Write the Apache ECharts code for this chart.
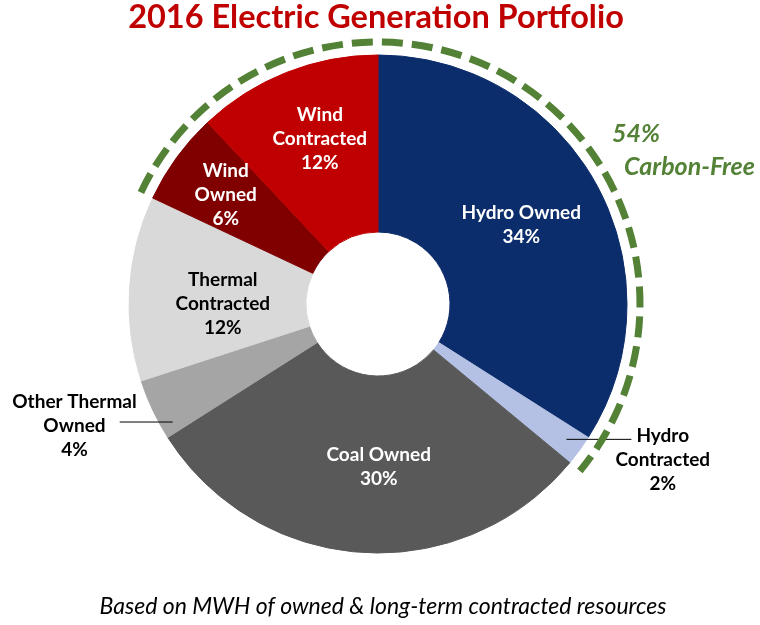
<!DOCTYPE html>
<html><head><meta charset="utf-8">
<script src="https://cdn.jsdelivr.net/npm/echarts@6/dist/echarts.min.js"></script>
<style>html,body{margin:0;padding:0;background:#fff}#c{width:760px;height:625px}</style>
</head><body><div id="c"></div>
<script>
// ---- data ----
const categories = ['Hydro Owned','Hydro Contracted','Coal Owned','Other Thermal Owned','Thermal Contracted','Wind Owned','Wind Contracted'];
const labelLines = [['Hydro Owned'],['Hydro','Contracted'],['Coal Owned'],['Other Thermal','Owned'],['Thermal','Contracted'],['Wind','Owned'],['Wind','Contracted']];
const values = [34, 2, 30, 4, 12, 6, 12];
const carbonFreeCats = ['Wind Owned','Wind Contracted','Hydro Owned','Hydro Contracted'];
const titleText = '2016 Electric Generation Portfolio';
const footText = 'Based on MWH of owned & long-term contracted resources';

// ---- styles ----
const palette = ['#0c2d6b','#b4c1e4','#595959','#a5a5a5','#d9d9d9','#800000','#c00000'];
const darkText = [false, true, false, true, true, false, false];
const outsideIdx = [1, 3];
const FONT = 'Lato';
const CX = 378, CY = 304, R0 = 72, R1 = 249, RA = 262;
// label nudges: [dx, dy, lineDy, lineEndDx, lineStartDx]
const nudges = {0: [0, 0], 1: [-21, 10, -11, 0, -13], 2: [11, 0], 3: [41, 16, 12, 19, 20], 4: [8, 10], 5: [-20, -13], 6: [2, -13]};

const total = values.reduce((a,b)=>a+b,0);
const cum = []; let acc = 0;
values.forEach(v=>{cum.push(acc); acc+=v;});
const cfStartIdx = categories.indexOf('Wind Owned');
const cfSum = carbonFreeCats.reduce((s,c)=>s+values[categories.indexOf(c)],0);
const a0 = -Math.PI/2 + 2*Math.PI*cum[cfStartIdx]/total;
const a1 = a0 + 2*Math.PI*cfSum/total;

const richBase = {fontFamily: FONT, fontWeight: 'bold', fontSize: 19, lineHeight: 24, align: 'center'};
function labelFor(i) {
  const col = darkText[i] ? '#000' : '#fff';
  return {color: col, rich: {c: Object.assign({}, richBase, {color: col})}};
}
// main sectors + inside labels
const data1 = categories.map((c,i)=>{
  const item = {name: c, value: values[i], itemStyle: {borderColor: palette[i], borderWidth: 1}};
  item.label = outsideIdx.includes(i) ? {show: false} : labelFor(i);
  return item;
});
// overlay (transparent) carrying the outside labels and leader lines above the sectors
const data2 = categories.map((c,i)=>{
  const item = {name: c, value: values[i], itemStyle: {color: 'rgba(0,0,0,0)', borderWidth: 0}};
  if (outsideIdx.includes(i)) {
    item.label = Object.assign(labelFor(i), {show: true, position: 'outside'});
    item.labelLine = {show: true, length: 0, length2: 52, lineStyle: {color: '#000', width: 1}};
  } else {
    item.label = {show: false};
    item.labelLine = {show: false};
  }
  return item;
});

const labelFormatter = p => labelLines[p.dataIndex].concat([p.value + '%']).map(s => '{c|' + s + '}').join('\n');
const labelLayoutFn = function (p) {
  const n = nudges[p.dataIndex];
  if (!n) return {};
  const out = {dx: n[0], dy: n[1]};
  if (n.length > 2 && p.labelLinePoints) {
    const pts = p.labelLinePoints.map(q => [q[0], q[1] + n[2]]);
    pts[pts.length - 1][0] += n[3];
    for (let k = 0; k < pts.length - 1; k++) pts[k][0] += n[4];
    out.labelLinePoints = pts;
  }
  return out;
};
const pieBase = {
  type: 'pie', center: [CX, CY], radius: [R0, R1], startAngle: 90, clockwise: true,
  avoidLabelOverlap: false, bleedMargin: 0,
  label: {show: true, position: 'inside', formatter: labelFormatter,
    fontFamily: FONT, fontWeight: 'bold', fontSize: 19, lineHeight: 24},
  labelLine: {show: false},
  emphasis: {disabled: true},
  labelLayout: labelLayoutFn
};

const chart = echarts.init(document.getElementById('c'), null, {renderer: 'canvas'});
chart.setOption({
  animation: false,
  color: palette,
  title: [
    {text: titleText, left: 371, top: -4, textAlign: 'center',
     textStyle: {fontFamily: FONT, fontWeight: 'bold', fontSize: 32.5, color: '#c00000'}},
    {text: footText, left: 378, top: 590, textAlign: 'center',
     textStyle: {fontFamily: FONT, fontStyle: 'italic', fontWeight: 'normal', fontSize: 23, color: '#000'}}
  ],
  graphic: [
    {type: 'arc', silent: true, z: 10,
     shape: {cx: CX, cy: CY, r: RA, startAngle: a0, endAngle: a1, clockwise: true},
     style: {stroke: '#538135', lineWidth: 7, fill: 'none', lineDash: [21, 9]}},
    {type: 'text', left: 612, top: 121, style: {text: cfSum + '%', fill: '#538135',
      font: 'italic bold 25px ' + FONT}},
    {type: 'text', left: 624, top: 154, style: {text: 'Carbon-Free', fill: '#538135',
      font: 'italic bold 25px ' + FONT}}
  ],
  series: [
    Object.assign({}, pieBase, {z: 2, data: data1}),
    Object.assign({}, pieBase, {z: 3, silent: true, data: data2})
  ]
});
</script></body></html>
